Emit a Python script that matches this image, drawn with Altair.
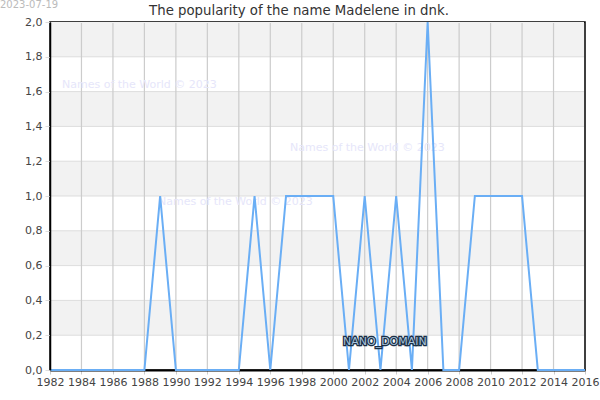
import altair as alt
import pandas as pd

years = list(range(1982, 2017))
values = [0, 0, 0, 0, 0, 0, 0,   # 1982-1988
          1,                     # 1989
          0, 0, 0, 0, 0,         # 1990-1994
          1,                     # 1995
          0,                     # 1996
          1, 1, 1, 1,            # 1997-2000
          0, 1, 0, 1, 0,         # 2001-2005
          2,                     # 2006
          0, 0,                  # 2007-2008
          1, 1, 1, 1,            # 2009-2012
          0, 0, 0, 0]            # 2013-2016
band_starts = [0.2, 0.6, 1.0, 1.4, 1.8]
band_height = 0.2
x_ticks = list(range(1982, 2017, 2))
y_ticks = [0.0, 0.2, 0.4, 0.6, 0.8, 1.0, 1.2, 1.4, 1.6, 1.8, 2.0]

df = pd.DataFrame({"year": years, "value": values})
bands = pd.DataFrame({"y": band_starts, "y2": [b + band_height for b in band_starts]})
xgrid = pd.DataFrame({"x": x_ticks[1:-1]})
ygrid = pd.DataFrame({"y": y_ticks[1:-1]})

W, H = 535, 348
xscale = alt.Scale(domain=[1982, 2016], nice=False, zero=False)
yscale = alt.Scale(domain=[0, 2], nice=False)

yaxis = alt.Axis(values=y_ticks, labelExpr="replace(format(datum.value, '.1f'), '.', ',')",
                 grid=False, domainColor="#000000", domainWidth=1.5,
                 tickColor="#dddddd", tickSize=5, labelOverlap=False,
                 labelColor="#444444", labelFontSize=11, labelPadding=3,
                 title=None, zindex=1)
xaxis = alt.Axis(values=x_ticks, format="d", grid=False,
                 domainColor="#000000", domainWidth=2,
                 tickColor="#cccccc", tickSize=4, labelOverlap=False,
                 labelColor="#444444", labelFontSize=11, labelPadding=2,
                 labelFlush=False, title=None)

band_layer = alt.Chart(bands).mark_rect(color="#f2f2f2").encode(
    x=alt.value(1), x2=alt.value(W - 1),
    y=alt.Y("y:Q", scale=yscale, axis=yaxis),
    y2="y2:Q",
)
ygrid_layer = alt.Chart(ygrid).mark_rule(color="#dddddd", strokeWidth=1).encode(
    y=alt.Y("y:Q", scale=yscale, axis=yaxis), x=alt.value(1), x2=alt.value(W - 1))
xgrid_layer = alt.Chart(xgrid).mark_rule(color="#cccccc", strokeWidth=1.2).encode(
    x=alt.X("x:Q", scale=xscale, axis=xaxis), y=alt.value(1), y2=alt.value(H - 1))

line_layer = alt.Chart(df).mark_line(color="#6aaef5", strokeWidth=2).encode(
    x=alt.X("year:Q", scale=xscale, axis=xaxis),
    y=alt.Y("value:Q", scale=yscale, axis=yaxis),
)

def txt(s, x, y, **kw):
    return alt.Chart(pd.DataFrame({"t": [s]})).mark_text(**kw).encode(
        text="t:N", x=alt.value(x), y=alt.value(y))

wm_style = dict(color="#e6e6fa", fontSize=11, align="left", baseline="middle", font="DejaVu Sans")
wm1 = txt("Names of the World © 2023", 12, 63, **wm_style)
wm2 = txt("Names of the World © 2023", 240, 126, **wm_style)
wm3 = txt("Names of the World © 2023", 108, 180, **wm_style)
date = txt("2023-07-19", -50, -17, color="#bbbbbb", fontSize=10, align="left",
           baseline="middle", font="DejaVu Sans")
title = txt("The popularity of the name Madelene in dnk.", 249, -11, color="#333333", fontSize=13.3,
            align="center", baseline="middle", font="DejaVu Sans")
nd_halo = txt("NANO_DOMAIN", 293, 320, color="#1b2f45", stroke="#1b2f45", strokeWidth=2.5,
              fontSize=11, align="left", baseline="middle", font="DejaVu Sans")
nd = txt("NANO_DOMAIN", 293, 320, color="#a9c4dd", fontSize=11, align="left",
         baseline="middle", font="DejaVu Sans")

chart = alt.layer(band_layer, ygrid_layer, xgrid_layer, wm1, wm2, wm3, line_layer,
                  nd_halo, nd, date, title).properties(
    width=W, height=H,
    autosize=alt.AutoSizeParams(type="none"),
    padding={"left": 50, "top": 22, "right": 15, "bottom": 30},
).configure_view(stroke="#000000", strokeWidth=1.5).configure_axis(labelFont="DejaVu Sans")

chart.save("out.html", embed_options={"renderer": "svg", "actions": False})
